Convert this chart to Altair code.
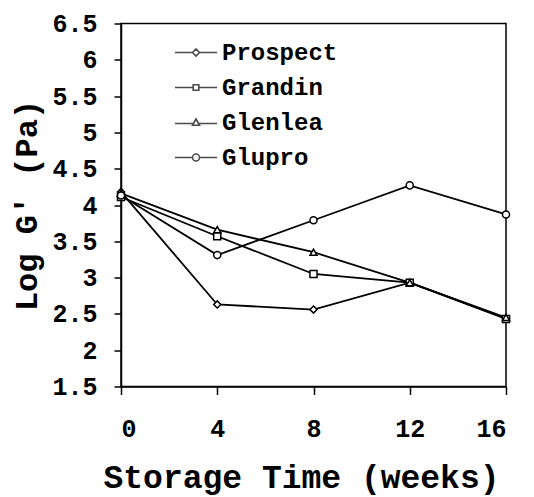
import altair as alt
import pandas as pd

weeks = [0, 4, 8, 12, 16]
series = ["Prospect", "Grandin", "Glenlea", "Glupro"]
prospect = [4.18, 2.63, 2.56, 2.93, 2.44]
grandin = [4.11, 3.57, 3.05, 2.93, 2.43]
glenlea = [4.16, 3.66, 3.35, 2.93, 2.45]
glupro = [4.13, 3.31, 3.79, 4.27, 3.87]
y_ticks = [1.5, 2, 2.5, 3, 3.5, 4, 4.5, 5, 5.5, 6, 6.5]

rows = []
for name, vals in zip(series, [prospect, grandin, glenlea, glupro]):
    for w, v in zip(weeks, vals):
        rows.append({"week": w, "logG": v, "variety": name})
df = pd.DataFrame(rows)

FONT = "Liberation Mono"

marker_shapes = ["diamond", "square", "triangle-up", "circle"]
legend_shapes = [
    "M-6,0L-1,0M1,0L6,0M0,-1L1,0L0,1L-1,0Z",
    "M-6,0L-0.8,0M0.8,0L6,0M-0.8,-0.8L0.8,-0.8L0.8,0.8L-0.8,0.8Z",
    "M-6,0.3L-0.8,0.3M0.8,0.3L6,0.3M0,-1L1,0.8L-1,0.8Z",
    "M-6,0L-1,0M1,0L6,0M1,0A1,1 0 1,1 -1,0A1,1 0 1,1 1,0Z",
]

x = alt.X(
    "week:Q",
    scale=alt.Scale(domain=[0, 16], nice=False, zero=False),
    axis=alt.Axis(
        values=weeks, title="Storage Time (weeks)", grid=False,
        tickSize=8, labelPadding=22, titleX=180, titleY=101,
        titleBaseline="alphabetic", titleFontSize=33,
    ),
)
y = alt.Y(
    "logG:Q",
    scale=alt.Scale(domain=[1.5, 6.5], nice=False, zero=False),
    axis=alt.Axis(
        values=y_ticks, format="~g", title="Log G' (Pa)", grid=False,
        tickSize=7, labelPadding=17, titleFontSize=32, titleX=-95,
        titleAngle=-90, titleBaseline="middle",
    ),
)

lines = alt.Chart(df).mark_line(color="black", strokeWidth=1.8).encode(
    x=x, y=y, detail="variety:N"
)

points = alt.Chart(df).mark_point(
    filled=True, fill="white", stroke="black", strokeWidth=1.5, size=50, opacity=1
).encode(
    x=x, y=y,
    shape=alt.Shape("variety:N", scale=alt.Scale(domain=series, range=marker_shapes), legend=None),
)

legend_layer = alt.Chart(df).transform_filter("false").mark_point(
    filled=False, stroke="black"
).encode(
    x=x, y=y,
    shape=alt.Shape(
        "variety:N",
        scale=alt.Scale(domain=series, range=legend_shapes),
        legend=alt.Legend(
            title=None, orient="none", legendX=63, legendY=17,
            symbolSize=49, symbolStrokeColor="black", symbolFillColor="white",
            symbolStrokeWidth=1.6, labelFont=FONT, labelFontSize=24,
            labelFontWeight="bold", labelColor="black", labelOffset=14,
            rowPadding=11,
        ),
    ),
)

chart = alt.layer(lines, points, legend_layer).resolve_scale(shape="independent").properties(
    width=385, height=363,
    autosize=alt.AutoSizeParams(type="none"),
    padding={"left": 113, "top": 15.5, "right": 20, "bottom": 110},
).configure_view(
    stroke="black", strokeWidth=1.5
).configure_axis(
    labelFont=FONT, labelFontSize=25, labelFontWeight="bold", labelColor="black",
    titleFont=FONT, titleFontWeight="bold", titleColor="black",
    domainColor="black", domainWidth=1.5, tickColor="black", tickWidth=1.5,
)

chart.save("out.html", embed_options={"renderer": "svg", "actions": False})
